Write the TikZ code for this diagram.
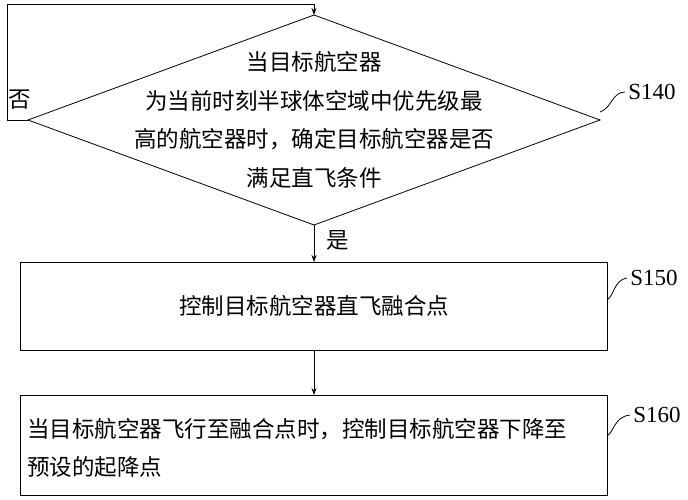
\documentclass[tikz,border=0pt]{standalone}
\usepackage{fontspec}
\setmainfont{Liberation Serif}
\newfontfamily\cjk{Noto Sans CJK SC}
\usetikzlibrary{arrows.meta}
\begin{document}
\begin{tikzpicture}[x=1pt,y=-1pt,line width=0.8pt,
  txt/.style={font=\cjk\fontsize{22.5}{38.5}\selectfont,align=center,inner sep=0},
  lbl/.style={font=\fontsize{23}{24}\selectfont,inner sep=0},
  arr/.style={-{Stealth[length=7pt,width=5pt]}}]
\useasboundingbox (0,0) rectangle (688,500);
\coordinate (top) at (314,15);
\coordinate (lft) at (28,120);
\coordinate (rgt) at (600,120);
\coordinate (bot) at (314,225);
\draw (top)--(rgt)--(bot)--(lft)--cycle;
\node[txt] (d) at (314,120) {当目标航空器\\为当前时刻半球体空域中优先级最\\高的航空器时，确定目标航空器是否\\满足直飞条件};
\coordinate (c1) at (7,120);
\coordinate (c2) at (7,4);
\coordinate (c3) at (314,4);
\draw[arr] (lft)--(c1)--(c2)--(c3)--(top);
\node[txt] (no) at (20,100) {否};
\draw (20,262) rectangle (607,350);
\node[txt] (b1) at (314,306) {控制目标航空器直飞融合点};
\draw (20,395) rectangle (607,495);
\node[txt,align=left,anchor=west] (b2) at (27,448) {当目标航空器飞行至融合点时，控制目标航空器下降至\\预设的起降点};
\coordinate (b1t) at (314,262); \coordinate (b1b) at (314,350); \coordinate (b2t) at (314,395);
\draw[arr] (bot)--(b1t);
\draw[arr] (b1b)--(b2t);
\node[txt] (yes) at (338,240) {是};
\node[lbl] (s140) at (652,92) {S140};
\node[lbl] (s150) at (654,278) {S150};
\node[lbl] (s160) at (657,415) {S160};
\draw (s140.west) ++(-3,0) .. controls (612,92) and (612,108) .. (600,112);
\draw (s150.west) ++(-3,0) .. controls (614,280) and (614,296) .. (607,300);
\draw (s160.west) ++(-3,0) .. controls (614,417) and (614,432) .. (607,436);
\end{tikzpicture}
\end{document}
